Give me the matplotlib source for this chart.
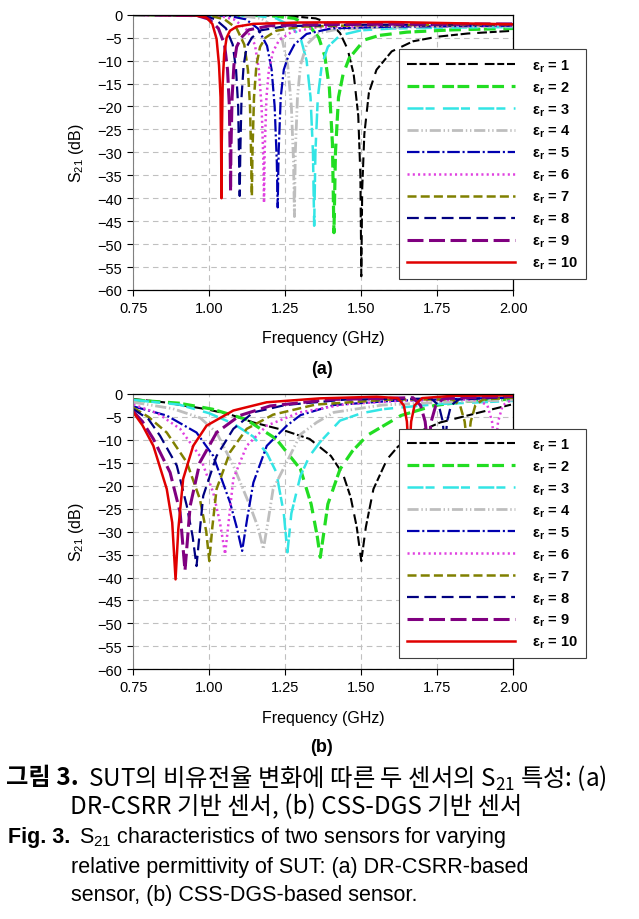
import matplotlib
matplotlib.use('Agg')
import matplotlib.pyplot as plt
from matplotlib import font_manager

# permittivity of SUT
er_values = [1, 2, 3, 4, 5, 6, 7, 8, 9, 10]

# (a) DR-CSRR sensor, S21 in dB
freq_a = [
    [0.75, 1.25, 1.35, 1.40, 1.43, 1.455, 1.475, 1.49, 1.497, 1.50, 1.503, 1.51, 1.525, 1.55, 1.60, 1.67, 1.75, 1.85, 2.00],
    [0.75, 1.20, 1.28, 1.33, 1.36, 1.38, 1.395, 1.405, 1.41, 1.415, 1.425, 1.44, 1.46, 1.51, 1.56, 1.65, 1.80, 2.00],
    [0.75, 1.15, 1.22, 1.27, 1.30, 1.32, 1.333, 1.341, 1.345, 1.349, 1.357, 1.37, 1.39, 1.43, 1.50, 1.60, 1.80, 2.00],
    [0.75, 1.10, 1.17, 1.21, 1.24, 1.258, 1.27, 1.277, 1.28, 1.283, 1.29, 1.30, 1.32, 1.36, 1.42, 1.55, 1.75, 2.00],
    [0.75, 1.06, 1.12, 1.16, 1.19, 1.205, 1.215, 1.222, 1.225, 1.228, 1.235, 1.245, 1.26, 1.28, 1.32, 1.40, 1.60, 2.00],
    [0.75, 1.03, 1.08, 1.12, 1.15, 1.163, 1.172, 1.178, 1.18, 1.182, 1.188, 1.196, 1.21, 1.23, 1.27, 1.35, 1.55, 2.00],
    [0.75, 1.00, 1.05, 1.09, 1.115, 1.127, 1.134, 1.138, 1.14, 1.142, 1.147, 1.155, 1.167, 1.185, 1.22, 1.30, 1.50, 2.00],
    [0.75, 0.98, 1.02, 1.055, 1.077, 1.088, 1.095, 1.098, 1.10, 1.102, 1.106, 1.113, 1.123, 1.14, 1.17, 1.25, 1.45, 2.00],
    [0.75, 0.96, 1.00, 1.03, 1.05, 1.06, 1.066, 1.069, 1.07, 1.071, 1.075, 1.081, 1.09, 1.105, 1.13, 1.20, 1.40, 2.00],
    [0.75, 0.95, 0.99, 1.01, 1.024, 1.032, 1.037, 1.039, 1.04, 1.041, 1.044, 1.049, 1.057, 1.068, 1.09, 1.145, 1.30, 1.60, 2.00],
]
s21_a = [
    [0, -0.2, -0.8, -2.0, -4.0, -7.5, -13, -22, -35, -57, -38, -26, -17, -12, -8, -5.8, -4.8, -4.1, -3.5],
    [0, -0.2, -0.8, -2.5, -5, -9, -16, -28, -47.5, -30, -18, -13, -9.5, -5.5, -4.5, -3.8, -3.3, -3.0],
    [0, -0.2, -0.8, -2.5, -5, -10, -18, -30, -46, -30, -18, -11, -7, -4.5, -3.4, -3.0, -2.8, -2.7],
    [0, -0.2, -0.8, -2.5, -5.5, -11, -20, -32, -44, -30, -18, -11, -6.5, -4, -3.2, -2.8, -2.6, -2.5],
    [0, -0.2, -1, -3, -6.8, -12, -20, -32, -42, -30, -18, -12, -9, -6.5, -4.2, -3.0, -2.6, -2.4],
    [0, -0.2, -1, -3, -6.5, -12, -20, -32, -41, -30, -18, -12, -8, -5.5, -3.8, -2.8, -2.4, -2.3],
    [0, -0.2, -1, -3, -6.5, -12, -20, -32, -39.5, -30, -18, -11, -7, -5, -3.5, -2.6, -2.3, -2.2],
    [0, -0.2, -1, -3, -6.5, -12, -20, -32, -39.5, -30, -18, -11, -7, -5, -3.4, -2.5, -2.2, -2.1],
    [0, -0.2, -1, -3, -6.5, -12, -20, -32, -38.5, -30, -18, -11, -7, -5, -3.3, -2.4, -2.1, -2.0],
    [0, -0.1, -0.6, -2, -5.3, -11, -18, -30, -40, -28, -15, -8.5, -5, -3.5, -2.6, -2.0, -1.7, -1.6, -2.1],
]

# (b) CSS-DGS sensor
freq_b = [
    [0.75, 0.85, 0.99, 1.07, 1.145, 1.24, 1.33, 1.40, 1.44, 1.465, 1.485, 1.50, 1.515, 1.54, 1.585, 1.62, 1.68, 1.76, 1.89, 2.00],
    [0.75, 0.90, 1.01, 1.12, 1.22, 1.30, 1.335, 1.355, 1.365, 1.375, 1.39, 1.43, 1.47, 1.52, 1.63, 1.74, 1.85, 2.00],
    [0.75, 0.90, 1.00, 1.08, 1.145, 1.19, 1.22, 1.245, 1.257, 1.27, 1.30, 1.33, 1.364, 1.43, 1.50, 1.572, 1.75, 2.00],
    [0.75, 0.88, 0.97, 1.024, 1.079, 1.134, 1.16, 1.178, 1.195, 1.21, 1.265, 1.30, 1.353, 1.41, 1.57, 1.80, 2.00],
    [0.75, 0.86, 0.958, 1.013, 1.068, 1.09, 1.108, 1.125, 1.145, 1.189, 1.255, 1.30, 1.41, 1.60, 1.85, 2.00],
    [0.75, 0.83, 0.904, 0.969, 1.013, 1.035, 1.052, 1.065, 1.079, 1.123, 1.189, 1.298, 1.45, 1.65, 1.88, 1.915, 1.93, 1.94, 1.95, 1.965, 2.00],
    [0.75, 0.80, 0.86, 0.926, 0.969, 0.99, 1.00, 1.01, 1.024, 1.068, 1.123, 1.21, 1.35, 1.60, 1.80, 1.825, 1.84, 1.85, 1.86, 1.875, 1.90, 2.00],
    [0.75, 0.80, 0.838, 0.893, 0.926, 0.945, 0.958, 0.97, 0.98, 1.024, 1.079, 1.145, 1.25, 1.45, 1.73, 1.755, 1.768, 1.775, 1.782, 1.795, 1.82, 2.00],
    [0.75, 0.78, 0.816, 0.871, 0.904, 0.92, 0.937, 0.969, 1.024, 1.10, 1.20, 1.40, 1.67, 1.695, 1.71, 1.72, 1.73, 1.745, 1.77, 2.00],
    [0.75, 0.78, 0.816, 0.86, 0.878, 0.889, 0.898, 0.914, 0.947, 0.991, 1.079, 1.189, 1.364, 1.55, 1.62, 1.64, 1.65, 1.657, 1.664, 1.675, 1.70, 1.80, 2.00],
]
s21_b = [
    [-1.1, -1.8, -3.3, -4.5, -6.2, -7.8, -9.8, -13.5, -17.5, -22.5, -29, -36.4, -29, -20.7, -14.2, -11.5, -8.5, -6.2, -4.0, -2.2],
    [-1.3, -2.0, -3.3, -5.5, -9.8, -16.4, -24, -31, -35.6, -31, -24, -16.4, -12.5, -9.0, -4.7, -2.5, -1.6, -1.1],
    [-1.3, -2.3, -4.2, -6.5, -9.3, -13, -17, -26, -34.5, -26, -17.8, -13.5, -10.5, -5.8, -4.2, -3.3, -2.2, -1.5],
    [-1.8, -3.2, -5.2, -8.4, -15.6, -24.4, -29, -33.8, -27, -20.7, -13.5, -8.8, -6.2, -4.0, -2.4, -1.7, -1.3],
    [-2.7, -4.7, -8.4, -13.5, -23.6, -29, -34.2, -27, -19.3, -11.3, -6.9, -4.6, -2.4, -1.5, -1.0, -0.8],
    [-2.3, -4.2, -7.6, -13.5, -21.5, -28, -34.9, -27, -18.5, -11.3, -6.9, -4.0, -2.2, -1.4, -1.2, -2.5, -6, -12, -6, -2.5, -1.0],
    [-3.0, -5.0, -8.4, -14.9, -22.9, -30, -36.4, -29, -20.7, -12.7, -7.6, -4.5, -2.3, -1.2, -1.2, -2.5, -6, -12, -6, -2.5, -1.2, -0.8],
    [-3.3, -5.5, -9.1, -15.6, -24.4, -31, -37.5, -29, -22.2, -13.5, -7.6, -4.0, -2.4, -1.2, -1.0, -2.5, -6, -12, -6, -2.5, -1.2, -0.6],
    [-3.8, -6, -9.8, -17.1, -25.8, -38.5, -24.4, -14.9, -8.4, -4.7, -2.6, -1.2, -0.8, -2.5, -6, -12, -6, -2.5, -1.0, -0.5],
    [-4.0, -6.8, -11.3, -20.7, -28, -40.4, -29.5, -18.5, -11.3, -6.9, -3.6, -1.8, -0.95, -0.6, -0.9, -2.5, -6, -14, -6, -2.5, -0.9, -0.4, -0.3],
]

xticks = [0.75, 1.00, 1.25, 1.50, 1.75, 2.00]
yticks = list(range(-60, 1, 5))

# line styles (dash patterns in points)
styles = [
    dict(color='black', lw=1.5, dashes=(7, 2, 5, 2, 7, 5)),
    dict(color='#22DD22', lw=2.3, dashes=(8.5, 2.5, 8.5, 5.5)),
    dict(color='#33E5E5', lw=1.8, dashes=(11.5, 1.5, 6.5, 6)),
    dict(color='#BEBEBE', lw=2.0, dashes=(8, 2, 1, 2, 1, 2)),
    dict(color='#0000B0', lw=1.6, dashes=(9, 2, 1.5, 2)),
    dict(color='#E040E0', lw=1.8, dashes=(1.5, 2.3)),
    dict(color='#808000', lw=1.8, dashes=(6.5, 3)),
    dict(color='#000080', lw=1.6, dashes=(8.5, 4)),
    dict(color='#800080', lw=2.2, dashes=(11.5, 4)),
    dict(color='#E00000', lw=1.8, dashes=None),
]

names = {f.name for f in font_manager.fontManager.ttflist}
cap_font = 'Liberation Sans Narrow' if 'Liberation Sans Narrow' in names else 'Liberation Sans'

plt.rcParams['font.family'] = ['Liberation Sans', 'Noto Sans CJK KR', 'DejaVu Sans']
plt.rcParams['lines.scale_dashes'] = False
plt.rcParams['mathtext.fontset'] = 'custom'
plt.rcParams['mathtext.rm'] = 'Liberation Sans'
plt.rcParams['mathtext.it'] = 'Liberation Sans'

W, H = 639, 920
fig = plt.figure(figsize=(W / 100, H / 100), dpi=100)


def draw_panel(top, bottom, freqs, vals, tag, tag_y, xlab_y):
    ax = fig.add_axes([133.3 / W, 1 - bottom / H, 380 / W, (bottom - top) / H])
    for i, er in enumerate(er_values):
        st = styles[i]
        line, = ax.plot(freqs[i], vals[i], color=st['color'], lw=st['lw'],
                        label=r'ε$_{\mathregular{r}}$ = %d' % er)
        if st['dashes'] is not None:
            line.set_dashes(st['dashes'])
    ax.set_xlim(0.75, 2.0)
    ax.set_ylim(-60, 0)
    ax.set_xticks(xticks)
    ax.set_xticklabels(['%.2f' % t for t in xticks])
    ax.set_yticks(yticks)
    ax.tick_params(labelsize=10.5, length=4, width=0.8, pad=4)
    ax.grid(True, color='#C0C0C0', lw=0.8, dashes=(4, 3))
    for s in ['top', 'right', 'bottom']:
        ax.spines[s].set_color('black')
        ax.spines[s].set_linewidth(0.9)
    ax.spines['left'].set_color('#808080')
    ax.set_ylabel(r'$\mathregular{S_{21}}$ (dB)', fontsize=11.5)
    ax.yaxis.set_label_coords((77 - 133.3) / 380, 0.5)
    ax.yaxis.label.set_va('center')
    ax.set_xlabel('Frequency (GHz)', fontsize=11.5)
    ax.xaxis.set_label_coords(0.5, -(xlab_y - bottom) / (bottom - top))
    ax.xaxis.label.set_va('center')
    leg = ax.legend(loc='upper left', bbox_to_anchor=(398.7 / W, 1 - (top + 34.5) / H),
                    bbox_transform=fig.transFigure, borderaxespad=0, fancybox=False,
                    framealpha=1, edgecolor='#404040', handlelength=7.4,
                    handletextpad=1.2, labelspacing=0.38, borderpad=0.55,
                    prop=dict(size=10.5, weight='bold'))
    leg.get_frame().set_linewidth(0.8)
    fig.text(322 / W, 1 - tag_y / H, tag, ha='center', va='center', fontsize=13, fontweight='bold')
    return ax


draw_panel(15.7, 291, freq_a, s21_a, '(a)', 369, 338)
draw_panel(395, 670.3, freq_b, s21_b, '(b)', 747, 718)

# caption
kor = ['Noto Sans CJK KR', 'DejaVu Sans']
eng = [cap_font, 'DejaVu Sans']
kor_size = 17.5
eng_size = 15.5
fig.text(6 / W, 1 - 778 / H, '그림 3.', fontsize=kor_size, fontweight='bold', family=kor, va='center')
fig.text(88 / W, 1 - 778 / H, r'SUT의 비유전율 변화에 따른 두 센서의 $\mathregular{S_{21}}$ 특성: (a)',
         fontsize=kor_size, va='center', family=kor)
fig.text(70 / W, 1 - 807 / H, 'DR-CSRR 기반 센서, (b) CSS-DGS 기반 센서',
         fontsize=kor_size, va='center', family=kor)
fig.text(8 / W, 1 - 838 / H, 'Fig. 3.', fontsize=eng_size, fontweight='bold', family=eng, va='center')
fig.text(79 / W, 1 - 838 / H, r'$\mathregular{S_{21}}$ characteristics of two sensors for varying',
         fontsize=eng_size, va='center', family=eng)
fig.text(71 / W, 1 - 867 / H, 'relative permittivity of SUT: (a) DR-CSRR-based',
         fontsize=eng_size, va='center', family=eng)
fig.text(71 / W, 1 - 896 / H, 'sensor, (b) CSS-DGS-based sensor.',
         fontsize=eng_size, va='center', family=eng)

fig.savefig('out.png', dpi=100)
